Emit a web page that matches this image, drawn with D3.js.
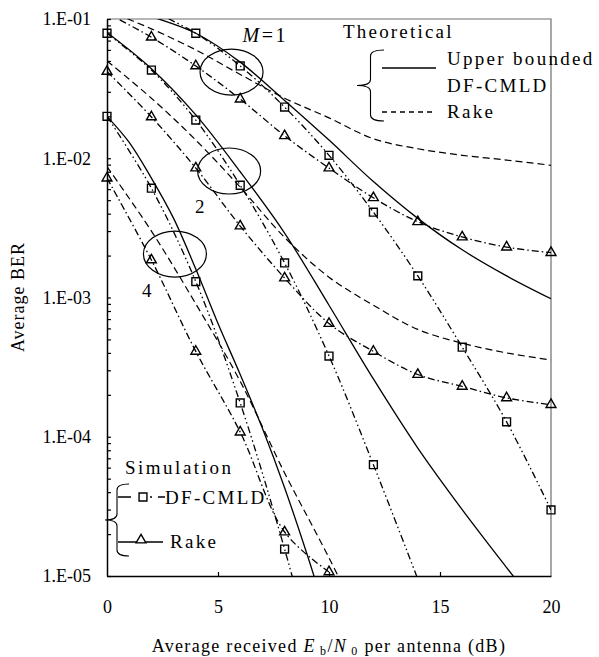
<!DOCTYPE html>
<html>
<head>
<meta charset="utf-8">
<script src="https://cdn.jsdelivr.net/npm/d3@7"></script>
<style>
  body { margin: 0; background: #fff; }
  text { font-family: "Liberation Serif", "Times New Roman", serif; fill: #000; }
</style>
</head>
<body>
<div id="chart"></div>
<script>
// x values (dB)
const snrEven = [0, 2, 4, 6, 8, 10, 12, 14, 16, 18, 20];
const snrM4 = [0, 1, 2, 3, 4, 5, 6, 7, 8, 9, 10];

// Theoretical: upper bounded DF-CMLD (solid)
const ubM1 = [0.13, 0.104, 0.079, 0.049, 0.026, 0.0135, 0.0068, 0.0037, 0.0022, 0.00143, 0.00098];
const ubM2 = [0.08, 0.044, 0.0205, 0.008, 0.0029, 0.00088, 0.00026, 0.000083, 0.00003, 0.0000115, 0.0000045];
const ubM4 = [0.02, 0.013, 0.0072, 0.0037, 0.0016, 0.00065, 0.00028, 0.000115, 0.000043, 0.0000145, 0.0000045];

// Theoretical: Rake (dashed)
const rakeThM1 = [0.115, 0.085, 0.06, 0.04, 0.027, 0.0195, 0.0138, 0.0117, 0.0105, 0.0097, 0.0089];
const rakeThM2 = [0.05, 0.027, 0.0135, 0.0062, 0.0027, 0.0014, 0.00088, 0.00059, 0.00047, 0.0004, 0.000356];
const rakeThM4 = [0.0087, 0.003, 0.0009, 0.00025, 0.000055, 0.0000135, 0.000003];

// Simulation: DF-CMLD (squares)
const simDfM1x = [2, 4, 6, 8, 10, 12, 14, 16, 18, 20];
const simDfM1 = [0.115, 0.079, 0.046, 0.0233, 0.0105, 0.0041, 0.00143, 0.00044, 0.000128, 0.0000298];
const simDfM2x = [0, 2, 4, 6, 8, 10, 12, 14];
const simDfM2 = [0.079, 0.043, 0.0188, 0.0064, 0.00177, 0.00038, 0.000063, 0.0000095];
const simDfM4x = [0, 2, 4, 6, 8, 10];
const simDfM4 = [0.02, 0.0061, 0.0013, 0.000175, 0.0000156, 0.000001];

// Simulation: Rake (triangles)
const simRkM1 = [0.11, 0.074, 0.046, 0.0266, 0.0145, 0.0085, 0.0052, 0.0035, 0.00272, 0.0023, 0.0021];
const simRkM2 = [0.042, 0.0198, 0.0085, 0.00326, 0.00138, 0.00065, 0.00041, 0.00028, 0.00023, 0.00019, 0.00017];
const simRkM4x = [0, 2, 4, 6, 8, 10];
const simRkM4 = [0.0072, 0.00186, 0.00041, 0.000108, 0.0000207, 0.0000107];

// axis ticks
const xTickLabels = [0, 5, 10, 15, 20];
const yMajor = [1e-5, 1e-4, 1e-3, 1e-2, 1e-1];
const yTickLabels = ["1.E-05", "1.E-04", "1.E-03", "1.E-02", "1.E-01"];

// M group annotations: ellipse centres (dB, BER) and labels
const groupLabels = ["1", "2", "4"];
const groupCentres = [[5.61, 0.0416], [5.5, 0.0081], [3.06, 0.00205]];

const zip = (xs, ys) => xs.map((x, i) => [x, ys[i]]);

/////////////////////
// Dimensions
/////////////////////
const margin = { top: 19, right: 48, bottom: 81, left: 107 };
const width = 599 - margin.left - margin.right;
const height = 657 - margin.top - margin.bottom;

const root = d3.select("#chart")
  .append("svg")
  .attr("width", 599)
  .attr("height", 657);

const svg = root.append("g")
  .attr("transform", `translate(${margin.left}, ${margin.top})`);

const xScale = d3.scaleLinear().domain([0, 20]).range([0, width]);
const yScale = d3.scaleLog().domain([1e-5, 1e-1]).range([height, 0]);

svg.append("clipPath").attr("id", "plot-clip")
  .append("rect").attr("x", 0).attr("y", 0).attr("width", width).attr("height", height);

// frame: top and right in grey
svg.append("path")
  .attr("d", `M0,0H${width}V${height}`)
  .attr("fill", "none")
  .attr("stroke", "#6e6e6e")
  .attr("stroke-width", 1.2);

/////////////////////
// Axes
/////////////////////
// y ticks (pointing inwards)
svg.append("g")
  .call(d3.axisRight(yScale).tickValues(yScale.ticks()).tickSize(4).tickSizeOuter(0).tickFormat(""))
  .call(g => g.selectAll("line").attr("stroke", "#000").attr("stroke-width", 1.2))
  .call(g => g.select(".domain").attr("stroke", "#000").attr("stroke-width", 1.5));

svg.append("g")
  .call(d3.axisLeft(yScale).tickValues(yMajor).tickSize(0).tickPadding(16)
    .tickFormat((d, i) => yTickLabels[i]))
  .call(g => g.select(".domain").remove())
  .call(g => g.selectAll("text").attr("font-size", 18).attr("font-family", "Liberation Serif"));

// x ticks
svg.append("g")
  .attr("transform", `translate(0, ${height})`)
  .call(d3.axisTop(xScale).tickValues([5, 10, 15]).tickSize(4).tickSizeOuter(0).tickFormat(""))
  .call(g => g.selectAll("line").attr("stroke", "#000").attr("stroke-width", 1.2))
  .call(g => g.select(".domain").attr("stroke", "#000").attr("stroke-width", 1.5));

svg.append("g")
  .attr("transform", `translate(0, ${height})`)
  .call(d3.axisBottom(xScale).tickValues(xTickLabels).tickSize(0).tickPadding(24))
  .call(g => g.select(".domain").remove())
  .call(g => g.selectAll("text").attr("font-size", 18).attr("font-family", "Liberation Serif"));

// axis titles
const xTitle = root.append("text")
  .attr("x", margin.left + width / 2)
  .attr("y", 652)
  .attr("text-anchor", "middle")
  .attr("font-size", 18)
  .attr("letter-spacing", 1.3);
xTitle.append("tspan").text("Average received ");
xTitle.append("tspan").attr("font-style", "italic").text("E");
xTitle.append("tspan").attr("font-size", 12).attr("dy", 3).text(" b");
xTitle.append("tspan").attr("dy", -3).text("/");
xTitle.append("tspan").attr("font-style", "italic").text("N");
xTitle.append("tspan").attr("font-size", 12).attr("dy", 3).text(" 0");
xTitle.append("tspan").attr("dy", -3).text(" per antenna (dB)");

root.append("text")
  .attr("transform", `translate(24, 297) rotate(-90)`)
  .attr("text-anchor", "middle")
  .attr("font-size", 18)
  .attr("letter-spacing", 1)
  .text("Average BER");

/////////////////////
// Curves
/////////////////////
const lineGen = d3.line()
  .defined(d => d[1] > 0)
  .x(d => xScale(d[0]))
  .y(d => yScale(d[1]))
  .curve(d3.curveCatmullRom);

const DASH_TH = "7,4";
const DASH_SQ = "7,3,1.5,3,1.5,3";
const DASH_TR = "7,3,1.5,3";

const series = [
  { pts: zip(snrEven, ubM1), dash: null, w: 1.3 },
  { pts: zip(snrEven, ubM2), dash: null, w: 1.3 },
  { pts: zip(snrM4, ubM4), dash: null, w: 1.3 },
  { pts: zip(snrEven, rakeThM1), dash: DASH_TH, w: 1.2 },
  { pts: zip(snrEven, rakeThM2), dash: DASH_TH, w: 1.2 },
  { pts: zip(snrEven.slice(0, rakeThM4.length), rakeThM4), dash: DASH_TH, w: 1.2 },
  { pts: zip(simDfM1x, simDfM1), dash: DASH_SQ, w: 1.3, marker: "sq" },
  { pts: zip(simDfM2x, simDfM2), dash: DASH_SQ, w: 1.3, marker: "sq" },
  { pts: zip(simDfM4x, simDfM4), dash: DASH_SQ, w: 1.3, marker: "sq" },
  { pts: zip(snrEven, simRkM1), dash: DASH_TR, w: 1.3, marker: "tr" },
  { pts: zip(snrEven, simRkM2), dash: DASH_TR, w: 1.3, marker: "tr" },
  { pts: zip(simRkM4x, simRkM4), dash: DASH_TR, w: 1.3, marker: "tr" }
];

const lines = svg.append("g").attr("clip-path", "url(#plot-clip)");
series.forEach(s => {
  lines.append("path")
    .attr("d", lineGen(s.pts))
    .attr("fill", "none")
    .attr("stroke", "#000")
    .attr("stroke-width", s.w)
    .attr("stroke-dasharray", s.dash);
});

const symSq = d3.symbol(d3.symbolSquare, 62);
const symTr = d3.symbol(d3.symbolTriangle, 42);

const markers = svg.append("g");
series.filter(s => s.marker).forEach(s => {
  markers.selectAll(null)
    .data(s.pts.filter(d => d[1] >= 1e-5 && d[1] <= 1e-1))
    .join("path")
    .attr("transform", d => `translate(${xScale(d[0])}, ${yScale(d[1])})`)
    .attr("d", s.marker === "sq" ? symSq : symTr)
    .attr("fill", "none")
    .attr("stroke", "#000")
    .attr("stroke-width", 1.4);
});

/////////////////////
// M group ellipses and labels
/////////////////////
groupCentres.forEach((c, i) => {
  svg.append("ellipse")
    .attr("cx", xScale(c[0]))
    .attr("cy", yScale(c[1]))
    .attr("rx", 31.5)
    .attr("ry", 23)
    .attr("fill", "none")
    .attr("stroke", "#000")
    .attr("stroke-width", 1.2);
});

const m1 = svg.append("text")
  .attr("x", xScale(groupCentres[0][0]) + 11)
  .attr("y", yScale(groupCentres[0][1]) - 30)
  .attr("font-size", 20)
  .attr("letter-spacing", 2.5);
m1.append("tspan").attr("font-style", "italic").text("M");
m1.append("tspan").text("=" + groupLabels[0]);

svg.append("text")
  .attr("x", xScale(groupCentres[1][0]) - 34)
  .attr("y", yScale(groupCentres[1][1]) + 42)
  .attr("font-size", 19)
  .text(groupLabels[1]);

svg.append("text")
  .attr("x", xScale(groupCentres[2][0]) - 33)
  .attr("y", yScale(groupCentres[2][1]) + 43)
  .attr("font-size", 19)
  .text(groupLabels[2]);

/////////////////////
// Legends
/////////////////////
const brace = (xTip, xEnd, yTop, yBot) => {
  const xm = (xTip + xEnd) / 2;
  const ym = (yTop + yBot) / 2;
  const r = 6;
  return `M${xEnd},${yTop} Q${xm},${yTop} ${xm},${yTop + r} L${xm},${ym - r} Q${xm},${ym} ${xTip},${ym}` +
    ` Q${xm},${ym} ${xm},${ym + r} L${xm},${yBot - r} Q${xm},${yBot} ${xEnd},${yBot}`;
};

const leg = root.append("g");

// Theoretical
leg.append("text").attr("x", 343).attr("y", 38).attr("font-size", 19).attr("letter-spacing", 2.2).text("Theoretical");
leg.append("path").attr("d", brace(357, 384, 50, 121)).attr("fill", "none").attr("stroke", "#000").attr("stroke-width", 1.1);
leg.append("line").attr("x1", 382).attr("x2", 436).attr("y1", 68).attr("y2", 68)
  .attr("stroke", "#000").attr("stroke-width", 1.4);
leg.append("text").attr("x", 447).attr("y", 65).attr("font-size", 19).attr("letter-spacing", 2.3).text("Upper bounded");
leg.append("text").attr("x", 447).attr("y", 92).attr("font-size", 19).attr("letter-spacing", 2.3).text("DF-CMLD");
leg.append("line").attr("x1", 382).attr("x2", 436).attr("y1", 112).attr("y2", 112)
  .attr("stroke", "#000").attr("stroke-width", 1.4).attr("stroke-dasharray", "5,4");
leg.append("text").attr("x", 447).attr("y", 118).attr("font-size", 19).attr("letter-spacing", 2.3).text("Rake");

// Simulation
leg.append("text").attr("x", 125).attr("y", 474).attr("font-size", 19).attr("letter-spacing", 2.5).text("Simulation");
leg.append("path").attr("d", brace(105, 129, 484, 556)).attr("fill", "none").attr("stroke", "#000").attr("stroke-width", 1.1);
leg.append("line").attr("x1", 118).attr("x2", 165).attr("y1", 497).attr("y2", 497)
  .attr("stroke", "#000").attr("stroke-width", 1.4).attr("stroke-dasharray", "13,19,2,6,8");
leg.append("path").attr("transform", "translate(143, 497)").attr("d", symSq)
  .attr("fill", "#fff").attr("stroke", "#000").attr("stroke-width", 1.4);
leg.append("text").attr("x", 165).attr("y", 504).attr("font-size", 19).attr("letter-spacing", 2.3).text("DF-CMLD");
leg.append("line").attr("x1", 118).attr("x2", 163).attr("y1", 542).attr("y2", 542)
  .attr("stroke", "#000").attr("stroke-width", 1.4);
leg.append("path").attr("transform", "translate(141, 540)").attr("d", symTr)
  .attr("fill", "#fff").attr("stroke", "#000").attr("stroke-width", 1.4);
leg.append("text").attr("x", 170).attr("y", 548).attr("font-size", 19).attr("letter-spacing", 2.3).text("Rake");
</script>
</body>
</html>
